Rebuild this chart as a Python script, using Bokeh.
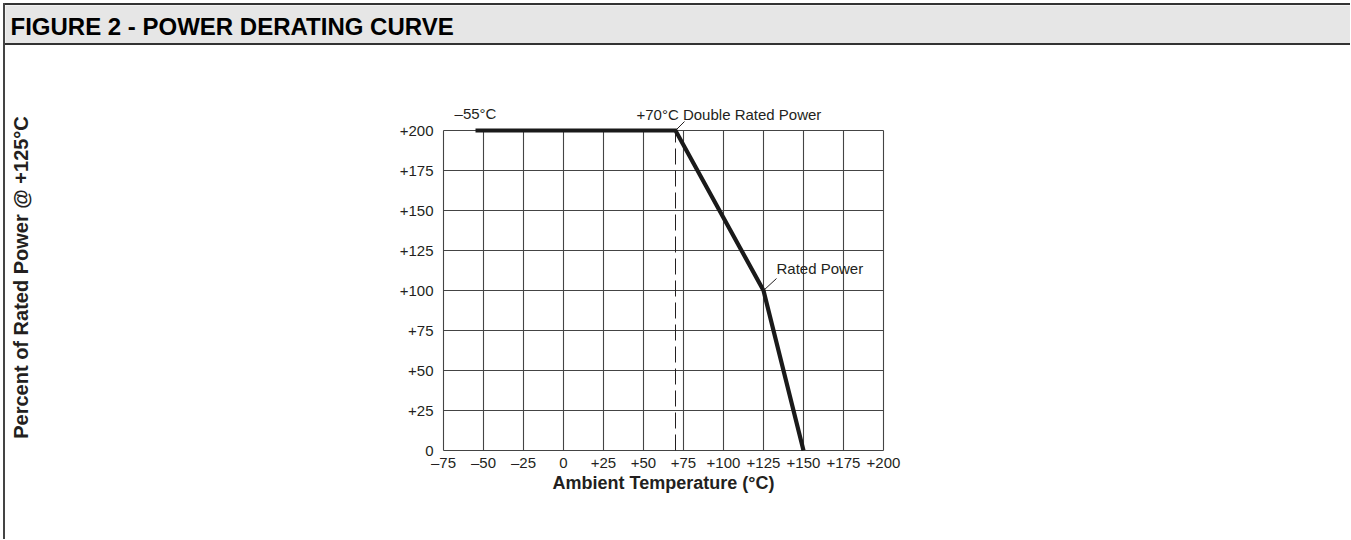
from bokeh.plotting import figure
from bokeh.models import Label, Arrow, FixedTicker
from bokeh.layouts import column
from bokeh.core.properties import value
from bokeh.embed import file_html
from bokeh.resources import INLINE

# ---------------- data ----------------
title_text = "FIGURE 2 - POWER DERATING CURVE"
temps = [-55, 70, 125, 150]
power_pct = [200, 200, 100, 0]
knee_temp = 70
rated_temp = 125
rated_pct = 100
x_ticks = [-75, -50, -25, 0, 25, 50, 75, 100, 125, 150, 175, 200]
x_tick_labels = ["–75", "–50", "–25", "0", "+25", "+50", "+75", "+100", "+125", "+150", "+175", "+200"]
y_ticks = [0, 25, 50, 75, 100, 125, 150, 175, 200]
y_tick_labels = ["0", "+25", "+50", "+75", "+100", "+125", "+150", "+175", "+200"]
x_title = "Ambient Temperature (°C)"
y_title = "Percent of Rated Power @ +125°C"
note_start = "–55°C"
note_double = "+70°C Double Rated Power"
note_rated = "Rated Power"

# ---------------- styles ----------------
FONT = "Liberation Sans"
INK = "#231f20"
GRID = "#444444"
PAGE_W = 1350
HEAD_H = 42
BODY_W = PAGE_W - 5
BODY_H = 494
GRID_W, GRID_H = 440, 320        # pixel size of the gridded area
PAD, PAD_TOP = 2, 28              # extra frame room around the grid

# header bar
head = figure(width=BODY_W, height=HEAD_H, x_range=(0, 1), y_range=(0, 1),
              x_axis_type=None, y_axis_type=None,
              min_border_left=0, min_border_right=0, min_border_top=0, min_border_bottom=0,
              output_backend="svg", toolbar_location=None)
head.frame_align = False
head.grid.visible = False
head.background_fill_color = "#e6e6e6"
head.border_fill_color = "#e6e6e6"
head.outline_line_color = None
head.styles = {"border-top": "2px solid #333333", "border-bottom": "2px solid #333333"}
head.text(x=[0], y=[0.5], text=[title_text], x_offset=5, y_offset=0,
          text_font=value(FONT), text_font_size="24px", text_font_style="bold",
          text_color="#000000", text_baseline="middle", text_align="left")

# chart
xmin, xmax = x_ticks[0], x_ticks[-1]
ymin, ymax = y_ticks[0], y_ticks[-1]
sx = (xmax - xmin) / GRID_W
sy = (ymax - ymin) / GRID_H

frame_w = GRID_W + 2 * PAD
frame_h = GRID_H + PAD + PAD_TOP
left_b = 436
top_b = 57
p = figure(frame_width=frame_w, frame_height=frame_h,
           x_range=(xmin - PAD * sx, xmax + PAD * sx),
           y_range=(ymin - PAD * sy, ymax + PAD_TOP * sy),
           min_border_left=left_b, min_border_right=BODY_W - left_b - frame_w,
           min_border_top=top_b, min_border_bottom=BODY_H - top_b - frame_h,
           output_backend="svg", toolbar_location=None)
p.frame_align = False
p.background_fill_color = "white"
p.border_fill_color = "white"
p.outline_line_color = None
p.grid.visible = False

for ax in (p.xaxis[0], p.yaxis[0]):
    ax.axis_line_color = None
    ax.major_tick_line_color = None
    ax.minor_tick_line_color = None
    ax.major_tick_out = 0
    ax.major_tick_in = 0
    ax.major_label_text_font = FONT
    ax.major_label_text_font_size = "15px"
    ax.major_label_text_color = INK
    ax.axis_label_text_font = FONT
    ax.axis_label_text_font_style = "bold"
    ax.axis_label_text_color = INK

p.xaxis.ticker = FixedTicker(ticks=x_ticks)
p.xaxis.major_label_overrides = {t: s for t, s in zip(x_ticks, x_tick_labels)}
p.xaxis.major_label_standoff = 1
p.xaxis.axis_label = x_title
p.xaxis.axis_label_text_font_size = "18px"
p.xaxis.axis_label_standoff = -1

p.yaxis.ticker = FixedTicker(ticks=y_ticks)
p.yaxis.major_label_overrides = {t: s for t, s in zip(y_ticks, y_tick_labels)}
p.yaxis.major_label_standoff = 8
p.yaxis.axis_label = y_title
p.yaxis.axis_label_text_font_size = "20px"
p.yaxis.axis_label_text_line_height = 1.0
p.yaxis.axis_label_standoff = 365

# grid (drawn from the tick values)
p.segment(x0=x_ticks, y0=[ymin] * len(x_ticks), x1=x_ticks, y1=[ymax] * len(x_ticks),
          line_color=GRID, line_width=1.1)
p.segment(x0=[xmin] * len(y_ticks), y0=y_ticks, x1=[xmax] * len(y_ticks), y1=y_ticks,
          line_color=GRID, line_width=1.1)

# dashed line at the knee
p.segment(x0=[knee_temp], y0=[ymin], x1=[knee_temp], y1=[max(power_pct)],
          line_color=INK, line_width=1, line_dash="16 6")

# derating curve
p.line(temps, power_pct, line_color="#1a1a1a", line_width=4.2, line_join="miter")

# annotations (pixel offsets converted with the grid scale)
p.add_layout(Label(x=temps[0], y=power_pct[0], text=note_start, text_font=FONT,
                   text_font_size="15px", text_color=INK, text_align="center",
                   text_baseline="bottom", y_offset=9))
p.add_layout(Label(x=knee_temp, y=max(power_pct), text=note_double, text_font=FONT,
                   text_font_size="15px", text_color=INK, text_align="left",
                   text_baseline="bottom", x_offset=-39, y_offset=8))
p.add_layout(Label(x=rated_temp, y=rated_pct, text=note_rated, text_font=FONT,
                   text_font_size="15px", text_color=INK, text_align="left",
                   text_baseline="bottom", x_offset=13, y_offset=14))

p.add_layout(Arrow(end=None, x_start=knee_temp, y_start=max(power_pct),
                   x_end=knee_temp + 9 * sx, y_end=max(power_pct) + 9 * sy,
                   line_color=INK, line_width=1))
p.add_layout(Arrow(end=None, x_start=rated_temp, y_start=rated_pct,
                   x_end=rated_temp + 13 * sx, y_end=rated_pct + 12 * sy,
                   line_color=INK, line_width=1))

layout = column(head, p, spacing=0,
                styles={"border-left": "2px solid #444444", "margin-left": "3px", "margin-top": "3px"})

open("out.html", "w").write(file_html(layout, INLINE))
